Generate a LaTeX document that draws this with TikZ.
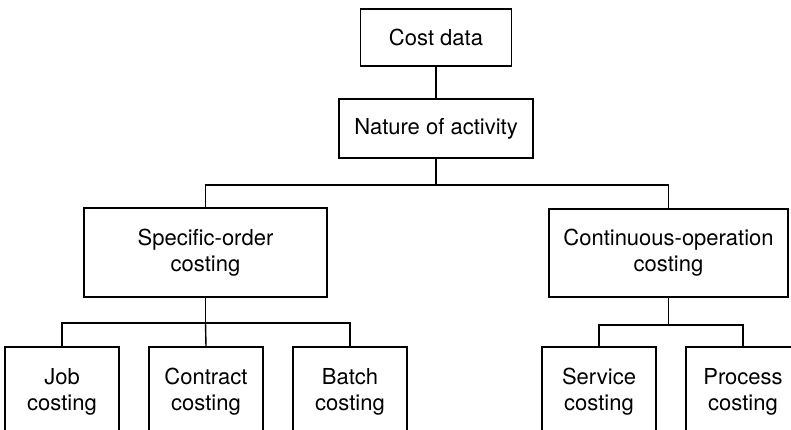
\documentclass[tikz,border=0pt]{standalone}
\usepackage{fontspec}
\setmainfont{TeX Gyre Heros}
\begin{document}
\begin{tikzpicture}[x=1pt,y=-1pt,
  box/.style={draw,line width=1.4pt,align=center,inner sep=0pt,
    font=\fontsize{22}{26}\selectfont},
  link/.style={line width=1.4pt}]
\useasboundingbox (0,0) rectangle (791,429);
\clip (0,0) rectangle (791,429);
% top of the tree
\node[box,minimum width=151pt,minimum height=57pt] (cost) at (436,37.5) {Cost data};
\node[box,minimum width=194pt,minimum height=59pt] (nature) at (436,128.5) {Nature of activity};
% the two families of costing
\node[box,minimum width=243pt,minimum height=89pt] (specific) at (205.5,252.5) {Specific-order\\costing};
\node[box,minimum width=239pt,minimum height=88pt] (continuous) at (668.5,253) {Continuous-operation\\costing};
% individual methods (boxes run off the lower edge)
\node[box,minimum width=114pt,minimum height=90pt] (job) at (62,392) {Job\\costing};
\node[box,minimum width=114pt,minimum height=90pt] (contract) at (206,392) {Contract\\costing};
\node[box,minimum width=114pt,minimum height=90pt] (batch) at (350,392) {Batch\\costing};
\node[box,minimum width=114pt,minimum height=90pt] (service) at (599,392) {Service\\costing};
\node[box,minimum width=114pt,minimum height=90pt] (process) at (743,392) {Process\\costing};
% junction points of the connectors
\coordinate (j1) at (436,185);
\coordinate (j2) at (205.5,323);
\coordinate (j3) at (668.5,325);
% connectors
\draw[link] (cost.south) -- (nature.north);
\draw[link] (nature.south) -- (j1);
\draw[link] (j1) -| (specific.north);
\draw[link] (j1) -| (continuous.north);
\draw[link] (specific.south) -- (j2);
\draw[link] (j2) -| (job.north);
\draw[link] (j2) -- (contract.north);
\draw[link] (j2) -| (batch.north);
\draw[link] (continuous.south) -- (j3);
\draw[link] (j3) -| (service.north);
\draw[link] (j3) -| (process.north);
\end{tikzpicture}
\end{document}
